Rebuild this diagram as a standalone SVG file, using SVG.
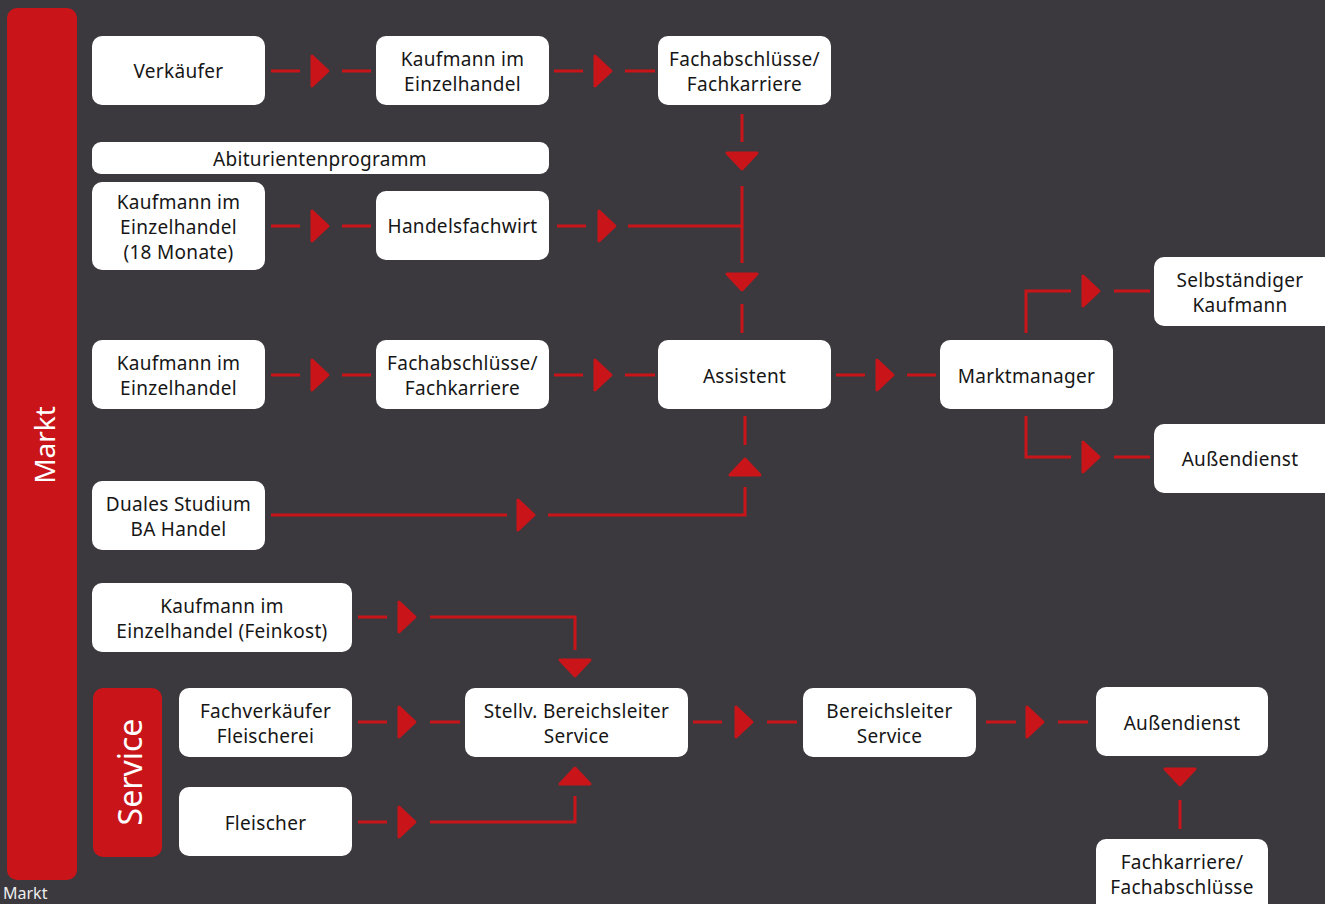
<svg xmlns="http://www.w3.org/2000/svg" xmlns:xlink="http://www.w3.org/1999/xlink" width="1325" height="904" viewBox="0 0 1325 904">
<style>
.bg{fill:#3b383e}
.node rect{fill:#ffffff}
.node text{font-family:"Noto Sans","Open Sans",sans-serif;font-size:19px;fill:#161616;text-anchor:middle;letter-spacing:0.3px}
.band{fill:#c9151a}
.bandtxt{font-family:"Noto Sans","Open Sans",sans-serif;fill:#ffffff;text-anchor:middle}
.ln{stroke:#c9151a;stroke-width:3;fill:none}
.tri{fill:#c9151a;stroke:#c9151a;stroke-width:3;stroke-linejoin:round}
</style>
<defs>
<path id="tr" d="M-8,-15 L8,0 L-8,15 Z"/>
</defs>
<rect class="bg" x="0" y="0" width="1325" height="904"/>

<g id="band-markt">
<rect class="band" x="7" y="8" width="70" height="872" rx="10"/>
<text class="bandtxt" font-size="28" transform="translate(55,445) rotate(-90)">Markt</text>
</g>
<g id="band-service">
<rect class="band" x="93" y="688" width="69" height="169" rx="10"/>
<text class="bandtxt" font-size="32" transform="translate(142,772) rotate(-90)">Service</text>
</g>
<text id="footer-markt" x="3" y="899" font-family="Noto Sans, sans-serif" font-size="16" fill="#eeeeee">Markt</text>

<g id="connectors">
<path class="ln" d="M271,71H300 M342,71H371 M554,71H583 M625,71H655"/>
<use xlink:href="#tr" class="tri" transform="translate(320,71)"/>
<use xlink:href="#tr" class="tri" transform="translate(603,71)"/>
<path class="ln" d="M742,114V142 M742,186V263 M557,226H586 M628,226H742 M742,304V333"/>
<use xlink:href="#tr" class="tri" transform="translate(742,161) rotate(90)"/>
<use xlink:href="#tr" class="tri" transform="translate(607,226)"/>
<use xlink:href="#tr" class="tri" transform="translate(742,282) rotate(90)"/>
<path class="ln" d="M271,226H300 M342,226H371"/>
<use xlink:href="#tr" class="tri" transform="translate(320,226)"/>
<path class="ln" d="M271,375H300 M342,375H371 M554,375H583 M625,375H655 M836,375H865 M907,375H936"/>
<use xlink:href="#tr" class="tri" transform="translate(320,375)"/>
<use xlink:href="#tr" class="tri" transform="translate(603,375)"/>
<use xlink:href="#tr" class="tri" transform="translate(885,375)"/>
<path class="ln" d="M271,515H507 M548,515H745V487 M745,445V416"/>
<use xlink:href="#tr" class="tri" transform="translate(526,515)"/>
<use xlink:href="#tr" class="tri" transform="translate(745,467) rotate(-90)"/>
<path class="ln" d="M1026,333V291H1071 M1114,291H1150 M1026,416V457H1071 M1114,457H1150"/>
<use xlink:href="#tr" class="tri" transform="translate(1091,291)"/>
<use xlink:href="#tr" class="tri" transform="translate(1091,457)"/>
<path class="ln" d="M358,617H387 M430,617H575V650"/>
<use xlink:href="#tr" class="tri" transform="translate(407,617)"/>
<use xlink:href="#tr" class="tri" transform="translate(575,668) rotate(90)"/>
<path class="ln" d="M358,722H387 M430,722H460"/>
<use xlink:href="#tr" class="tri" transform="translate(407,722)"/>
<path class="ln" d="M358,822H387 M430,822H575V796"/>
<use xlink:href="#tr" class="tri" transform="translate(407,822)"/>
<use xlink:href="#tr" class="tri" transform="translate(575,776) rotate(-90)"/>
<path class="ln" d="M693,722H722 M767,722H797 M986,722H1016 M1058,722H1088"/>
<use xlink:href="#tr" class="tri" transform="translate(744,722)"/>
<use xlink:href="#tr" class="tri" transform="translate(1035,722)"/>
<path class="ln" d="M1180,800V829"/>
<use xlink:href="#tr" class="tri" transform="translate(1180,777) rotate(90)"/>
</g>

<g id="n-verkaeufer" class="node"><rect x="92" y="36" width="173" height="69" rx="10"/><text x="178.5" y="78">Verkäufer</text></g>
<g id="n-kaufmann1" class="node"><rect x="376" y="36" width="173" height="69" rx="10"/><text x="462.5" y="66">Kaufmann im</text><text x="462.5" y="91">Einzelhandel</text></g>
<g id="n-fach1" class="node"><rect x="658" y="36" width="173" height="69" rx="10"/><text x="744.5" y="66">Fachabschlüsse/</text><text x="744.5" y="91">Fachkarriere</text></g>
<g id="n-abi" class="node"><rect x="92" y="142" width="457" height="32" rx="9"/><text x="320" y="166">Abiturientenprogramm</text></g>
<g id="n-kaufmann18" class="node"><rect x="92" y="182" width="173" height="88" rx="10"/><text x="178.5" y="209">Kaufmann im</text><text x="178.5" y="234">Einzelhandel</text><text x="178.5" y="259">(18 Monate)</text></g>
<g id="n-handelsfachwirt" class="node"><rect x="376" y="191" width="173" height="69" rx="10"/><text x="462.5" y="233">Handelsfachwirt</text></g>
<g id="n-kaufmann3" class="node"><rect x="92" y="340" width="173" height="69" rx="10"/><text x="178.5" y="370">Kaufmann im</text><text x="178.5" y="395">Einzelhandel</text></g>
<g id="n-fach3" class="node"><rect x="376" y="340" width="173" height="69" rx="10"/><text x="462.5" y="370">Fachabschlüsse/</text><text x="462.5" y="395">Fachkarriere</text></g>
<g id="n-assistent" class="node"><rect x="658" y="340" width="173" height="69" rx="10"/><text x="744.5" y="383">Assistent</text></g>
<g id="n-marktmanager" class="node"><rect x="940" y="340" width="173" height="69" rx="10"/><text x="1026.5" y="383">Marktmanager</text></g>
<g id="n-selbst" class="node"><rect x="1154" y="257" width="180" height="69" rx="10"/><text x="1240" y="287">Selbständiger</text><text x="1240" y="312">Kaufmann</text></g>
<g id="n-aussen1" class="node"><rect x="1154" y="424" width="180" height="69" rx="10"/><text x="1240" y="466">Außendienst</text></g>
<g id="n-duales" class="node"><rect x="92" y="481" width="173" height="69" rx="10"/><text x="178.5" y="511">Duales Studium</text><text x="178.5" y="536">BA Handel</text></g>
<g id="n-feinkost" class="node"><rect x="92" y="583" width="260" height="69" rx="10"/><text x="222" y="613">Kaufmann im</text><text x="222" y="638">Einzelhandel (Feinkost)</text></g>
<g id="n-fachverk" class="node"><rect x="179" y="688" width="173" height="69" rx="10"/><text x="265.5" y="718">Fachverkäufer</text><text x="265.5" y="743">Fleischerei</text></g>
<g id="n-fleischer" class="node"><rect x="179" y="787" width="173" height="69" rx="10"/><text x="265.5" y="830">Fleischer</text></g>
<g id="n-stellv" class="node"><rect x="465" y="688" width="223" height="69" rx="10"/><text x="576.5" y="718">Stellv. Bereichsleiter</text><text x="576.5" y="743">Service</text></g>
<g id="n-bereichsleiter" class="node"><rect x="803" y="688" width="173" height="69" rx="10"/><text x="889.5" y="718">Bereichsleiter</text><text x="889.5" y="743">Service</text></g>
<g id="n-aussen2" class="node"><rect x="1096" y="687" width="172" height="69" rx="10"/><text x="1182" y="730">Außendienst</text></g>
<g id="n-fachkarriere" class="node"><rect x="1096" y="839" width="172" height="80" rx="10"/><text x="1182" y="869">Fachkarriere/</text><text x="1182" y="894">Fachabschlüsse</text></g>
</svg>
